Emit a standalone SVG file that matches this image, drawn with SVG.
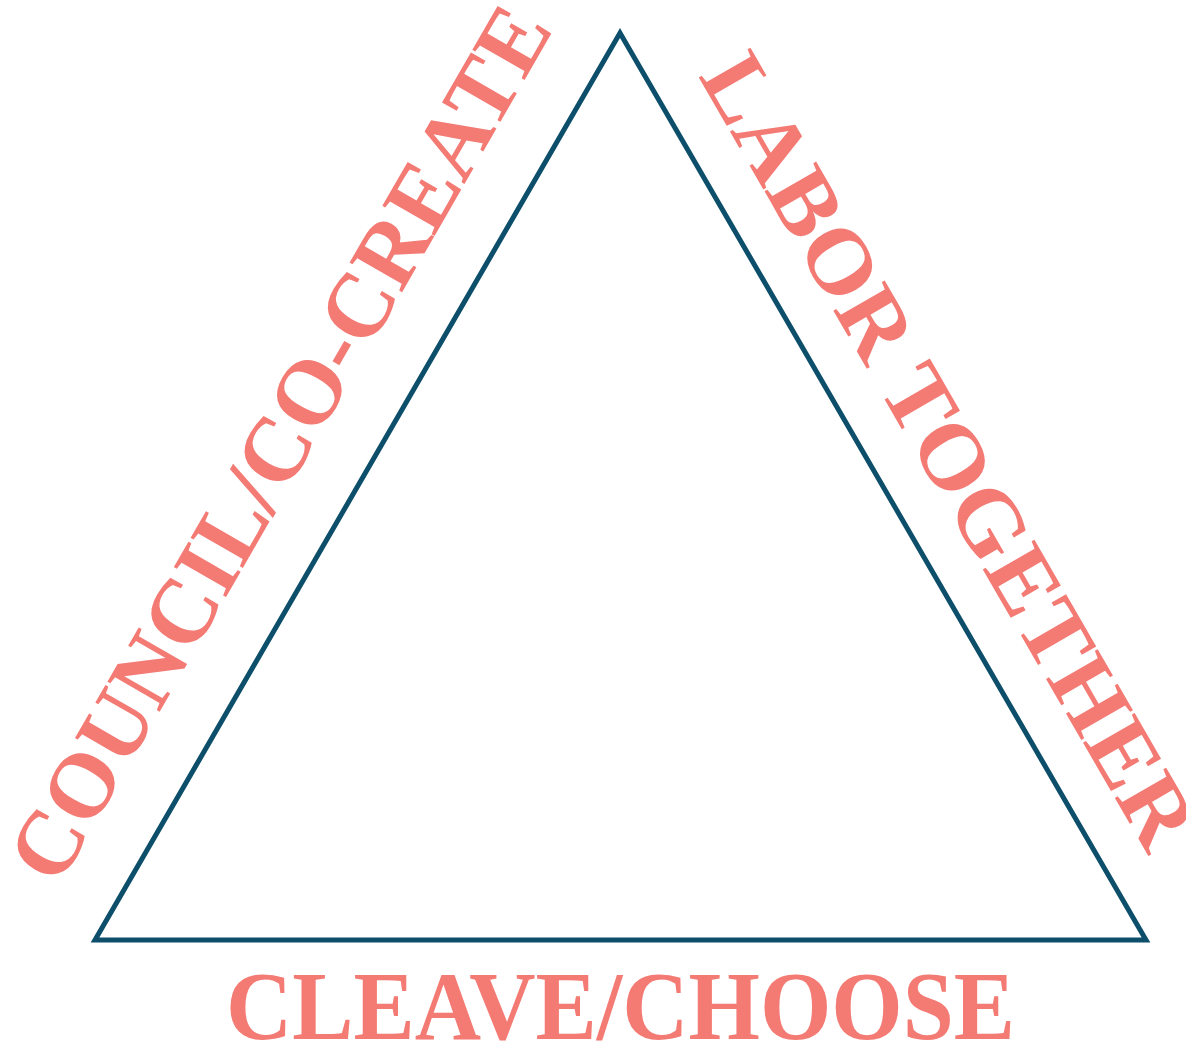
<svg xmlns="http://www.w3.org/2000/svg" width="1186" height="1043" viewBox="0 0 1186 1043">
  <style>
    .lbl { font-family: "Liberation Serif", "Times New Roman", serif; font-weight: bold; fill: #f47a74; }
    .edge { fill: none; stroke: #0d4f6a; stroke-width: 5; stroke-linejoin: miter; }
  </style>
  <rect width="1186" height="1043" fill="#ffffff"/>
  <g id="connectors">
    <polygon class="edge" points="620,33 95,940 1146,940"/>
  </g>
  <g id="node-council">
    <text class="lbl" font-size="92" textLength="992" lengthAdjust="spacingAndGlyphs" transform="translate(58,888) rotate(-60)">COUNCIL/CO-CREATE</text>
  </g>
  <g id="node-labor">
    <text class="lbl" font-size="91" textLength="900" lengthAdjust="spacingAndGlyphs" transform="translate(698,76) rotate(60)">LABOR TOGETHER</text>
  </g>
  <g id="node-cleave">
    <text class="lbl" font-size="97" x="226" y="1039" textLength="789" lengthAdjust="spacingAndGlyphs">CLEAVE/CHOOSE</text>
  </g>
</svg>
